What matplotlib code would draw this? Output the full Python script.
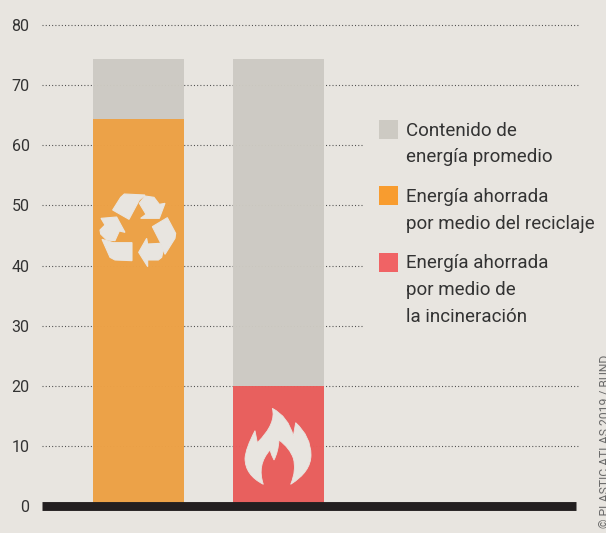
import matplotlib
matplotlib.use("Agg")
import matplotlib.pyplot as plt
from matplotlib.patches import Rectangle, PathPatch, Polygon
from matplotlib.path import Path
from matplotlib.transforms import Affine2D

# ---- data
categories = ["Reciclaje", "Incineración"]
saved_recycling = [64.3, 0]
saved_incineration = [0, 20]
average_content = [10.1, 54.4]
y_ticks = [0, 10, 20, 30, 40, 50, 60, 70, 80]
legend_labels = ["Contenido de\nenergía promedio",
                 "Energía ahorrada\npor medio del reciclaje",
                 "Energía ahorrada\npor medio de\nla incineración"]
credit = "© PLASTIC ATLAS 2019 / BUND"

BG = "#E8E5E0"; GREY = "#CDCAC3"; ORANGE = "#EDA145"; RED = "#E95D5B"
DARK = "#231F20"; TEXT = "#333333"
plt.rcParams["font.family"] = ["Roboto", "DejaVu Sans"]

W, H = 606, 533
fig = plt.figure(figsize=(W / 100, H / 100), dpi=100, facecolor=BG)
ax = fig.add_axes([42 / W, (H - 506) / H, (578 - 42) / W, (506 - 25) / H], facecolor=BG)

x = [0, 1]
ax.bar(x, saved_recycling, width=0.65, color=ORANGE, zorder=2, alpha=0.98)
ax.bar(x, saved_incineration, width=0.65, bottom=saved_recycling, color=RED, zorder=2, alpha=0.98)
bottoms = [a + b for a, b in zip(saved_recycling, saved_incineration)]
ax.bar(x, average_content, width=0.65, bottom=bottoms, color=GREY, zorder=2, alpha=0.97)

ax.set_xlim((42 - 138.5) / 140, (578 - 138.5) / 140)
ax.set_ylim(0, 80)
ax.set_xticks([])
ax.set_yticks(y_ticks)
ax.set_yticklabels([str(v) for v in y_ticks], fontsize=11.5, color=TEXT)
ax.tick_params(axis="y", length=0, pad=9)
for s in ax.spines.values():
    s.set_visible(False)

# dotted rules: those behind the legend stop short of it
for v in y_ticks[1:]:
    end = (363 - 42) / (578 - 42) if 30 <= v <= 60 else 1.0
    ax.plot([0, end], [v, v], transform=ax.get_yaxis_transform(), color="#4A4A4A",
            lw=0.8, linestyle=(0, (0.9, 2.0)), zorder=1, clip_on=False)

ax.plot([0, 0.9963], [0, 0], transform=ax.get_yaxis_transform(), color=DARK, lw=6.4,
        solid_capstyle="butt", clip_on=False, zorder=5)

# pixel helper: top-left image coordinates -> figure pixels
def px(ox, oy, scale=1 / 3):
    return Affine2D().scale(scale, -scale).translate(ox, H - oy)

recycle = [
    [(133,72),(195,75),(178,90),(147,148),(98,120),(122,82)],
    [(178,100),(195,78),(222,82),(238,103),(255,100),(238,145),(182,145),(198,133)],
    [(217,170),(262,143),(287,190),(285,205),(255,253),(240,215)],
    [(200,205),(203,222),(240,220),(250,240),(245,262),(235,270),(203,270),(203,290),(176,247)],
    [(66,208),(100,218),(156,218),(156,272),(105,270),(90,262)],
    [(63,145),(110,141),(135,187),(118,183),(105,212),(80,210),(62,192),(60,180),(75,165)],
]
for poly in recycle:
    fig.add_artist(Polygon(poly, closed=True, facecolor=BG, edgecolor=BG, lw=0.8,
                           transform=px(80, 170), zorder=6))

M, C, L = Path.MOVETO, Path.CURVE3, Path.LINETO
flame_v = [(142,85),(190,110),(205,168),(212,128),(212,128),(258,170),(258,225),(258,275),(197,313),
           (215,270),(205,235),(195,205),(162,180),(160,215),(147,240),(140,225),(135,210),(95,255),(115,313),
           (60,285),(60,235),(62,205),(90,152),(97,188),(97,188),(155,130),(142,85),(142,85)]
flame_c = [M,C,C,L,L,C,C,C,C,C,C,C,C,C,C,L,L,C,C,C,C,C,C,L,L,C,C,Path.CLOSEPOLY]
fig.add_artist(PathPatch(Path(flame_v, flame_c), facecolor=BG, edgecolor=BG, lw=0.6,
                         transform=px(225, 380), zorder=6))

# legend
swatches = [(120, GREY), (186, "#F89C2F"), (253, "#F06365")]
text_tops = [130.5, 197, 263]
for (top, col), label, ty in zip(swatches, legend_labels, text_tops):
    fig.add_artist(Rectangle((379 / W, (H - top - 19) / H), 19 / W, 19 / H,
                             transform=fig.transFigure, facecolor=col, edgecolor="none"))
    for i, line in enumerate(label.split("\n")):
        fig.text(406 / W, (H - ty - i * 27) / H, line, fontsize=13.5, color=TEXT,
                 ha="left", va="center")

fig.text(606 / W, (H - 528) / H, credit, rotation=90, fontsize=8.7, color="#6A6A6A",
         ha="center", va="bottom")

fig.savefig("out.png", dpi=100, facecolor=BG)
